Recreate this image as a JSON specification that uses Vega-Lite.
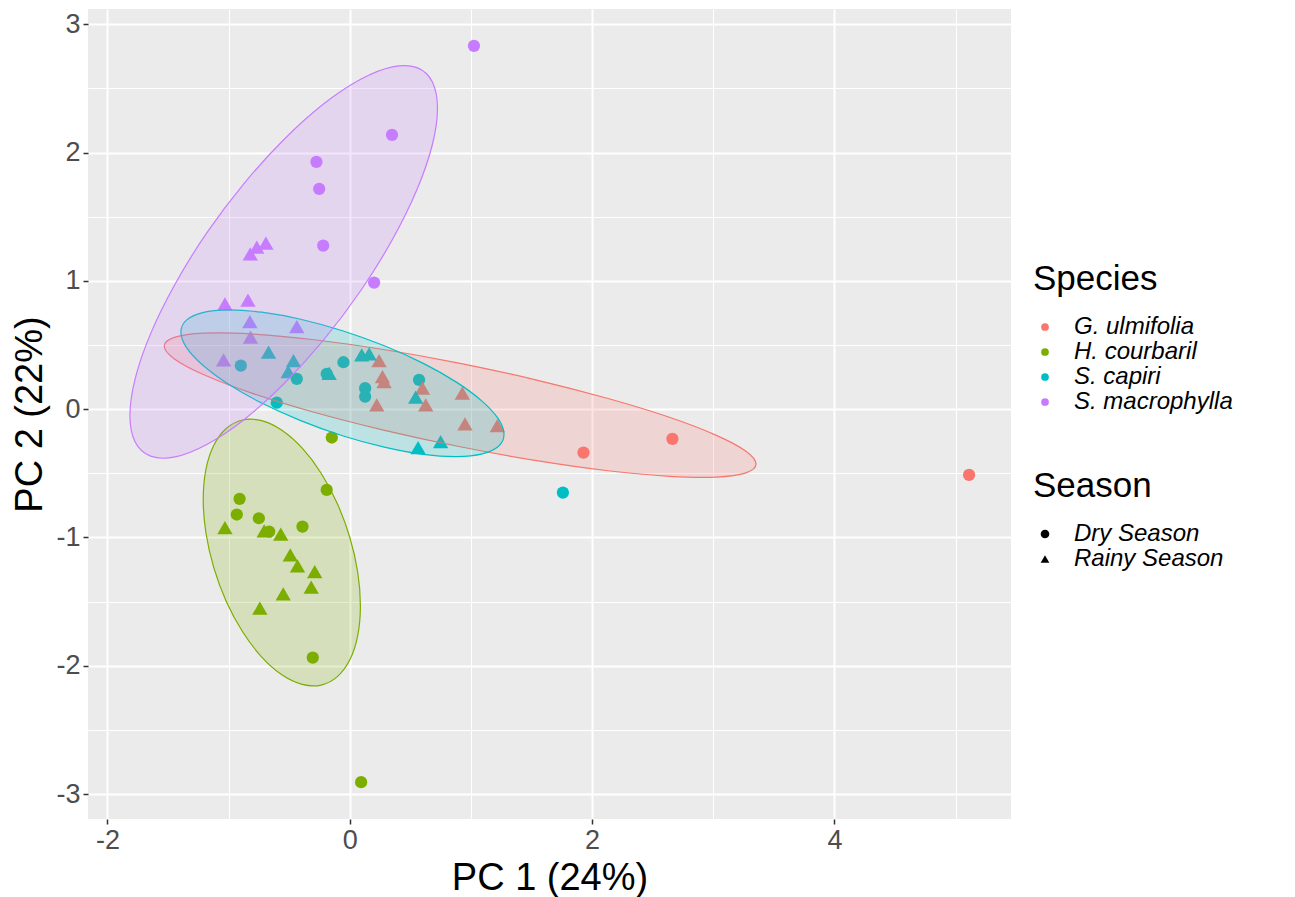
{
  "$schema": "https://vega.github.io/schema/vega-lite/v6.json",
  "autosize": {"type": "none"},
  "padding": {"left": 88, "top": 9, "right": 284, "bottom": 78},
  "width": 923,
  "height": 810,
  "background": "white",
  "config": {
    "font": "Liberation Sans",
    "view": {"fill": "#EBEBEB", "stroke": null},
    "legend": {
      "orient": "none",
      "labelFontStyle": "italic",
      "labelFontSize": 24,
      "labelColor": "black",
      "labelLimit": 400,
      "titleFontSize": 35,
      "titleFontWeight": "normal",
      "titleColor": "black",
      "titlePadding": 18,
      "rowPadding": 1,
      "symbolOffset": 0,
      "labelOffset": 17
    }
  },
  "datasets": {
    "pts": [
      {"species": "G. ulmifolia", "season": "Rainy Season", "pc1": 0.242, "pc2": 0.379},
      {"species": "G. ulmifolia", "season": "Rainy Season", "pc1": 0.270, "pc2": 0.254},
      {"species": "G. ulmifolia", "season": "Rainy Season", "pc1": 0.283, "pc2": 0.215},
      {"species": "G. ulmifolia", "season": "Rainy Season", "pc1": 0.600, "pc2": 0.164},
      {"species": "G. ulmifolia", "season": "Rainy Season", "pc1": 0.223, "pc2": 0.034},
      {"species": "G. ulmifolia", "season": "Rainy Season", "pc1": 0.627, "pc2": 0.034},
      {"species": "G. ulmifolia", "season": "Rainy Season", "pc1": 0.929, "pc2": 0.125},
      {"species": "G. ulmifolia", "season": "Rainy Season", "pc1": 0.951, "pc2": -0.115},
      {"species": "G. ulmifolia", "season": "Rainy Season", "pc1": 1.218, "pc2": -0.128},
      {"species": "G. ulmifolia", "season": "Dry Season", "pc1": 1.929, "pc2": -0.338},
      {"species": "G. ulmifolia", "season": "Dry Season", "pc1": 2.663, "pc2": -0.231},
      {"species": "G. ulmifolia", "season": "Dry Season", "pc1": 5.111, "pc2": -0.512},
      {"species": "H. courbaril", "season": "Dry Season", "pc1": -0.148, "pc2": -0.221},
      {"species": "H. courbaril", "season": "Dry Season", "pc1": -0.190, "pc2": -0.629},
      {"species": "H. courbaril", "season": "Dry Season", "pc1": -0.909, "pc2": -0.699},
      {"species": "H. courbaril", "season": "Dry Season", "pc1": -0.932, "pc2": -0.821},
      {"species": "H. courbaril", "season": "Dry Season", "pc1": -0.750, "pc2": -0.850},
      {"species": "H. courbaril", "season": "Dry Season", "pc1": -0.390, "pc2": -0.915},
      {"species": "H. courbaril", "season": "Dry Season", "pc1": -0.665, "pc2": -0.954},
      {"species": "H. courbaril", "season": "Dry Season", "pc1": -0.305, "pc2": -1.936},
      {"species": "H. courbaril", "season": "Dry Season", "pc1": 0.094, "pc2": -2.907},
      {"species": "H. courbaril", "season": "Rainy Season", "pc1": -1.030, "pc2": -0.923},
      {"species": "H. courbaril", "season": "Rainy Season", "pc1": -0.706, "pc2": -0.948},
      {"species": "H. courbaril", "season": "Rainy Season", "pc1": -0.569, "pc2": -0.974},
      {"species": "H. courbaril", "season": "Rainy Season", "pc1": -0.491, "pc2": -1.136},
      {"species": "H. courbaril", "season": "Rainy Season", "pc1": -0.431, "pc2": -1.221},
      {"species": "H. courbaril", "season": "Rainy Season", "pc1": -0.289, "pc2": -1.266},
      {"species": "H. courbaril", "season": "Rainy Season", "pc1": -0.318, "pc2": -1.387},
      {"species": "H. courbaril", "season": "Rainy Season", "pc1": -0.549, "pc2": -1.440},
      {"species": "H. courbaril", "season": "Rainy Season", "pc1": -0.742, "pc2": -1.551},
      {"species": "S. capiri", "season": "Dry Season", "pc1": -0.899, "pc2": 0.340},
      {"species": "S. capiri", "season": "Dry Season", "pc1": -0.437, "pc2": 0.236},
      {"species": "S. capiri", "season": "Dry Season", "pc1": -0.602, "pc2": 0.051},
      {"species": "S. capiri", "season": "Dry Season", "pc1": -0.052, "pc2": 0.366},
      {"species": "S. capiri", "season": "Dry Season", "pc1": -0.190, "pc2": 0.275},
      {"species": "S. capiri", "season": "Dry Season", "pc1": 0.572, "pc2": 0.228},
      {"species": "S. capiri", "season": "Dry Season", "pc1": 0.127, "pc2": 0.164},
      {"species": "S. capiri", "season": "Dry Season", "pc1": 0.127, "pc2": 0.098},
      {"species": "S. capiri", "season": "Dry Season", "pc1": 1.759, "pc2": -0.650},
      {"species": "S. capiri", "season": "Rainy Season", "pc1": -0.670, "pc2": 0.444},
      {"species": "S. capiri", "season": "Rainy Season", "pc1": -0.464, "pc2": 0.379},
      {"species": "S. capiri", "season": "Rainy Season", "pc1": -0.508, "pc2": 0.293},
      {"species": "S. capiri", "season": "Rainy Season", "pc1": -0.170, "pc2": 0.280},
      {"species": "S. capiri", "season": "Rainy Season", "pc1": 0.099, "pc2": 0.423},
      {"species": "S. capiri", "season": "Rainy Season", "pc1": 0.160, "pc2": 0.431},
      {"species": "S. capiri", "season": "Rainy Season", "pc1": 0.544, "pc2": 0.094},
      {"species": "S. capiri", "season": "Rainy Season", "pc1": 0.564, "pc2": -0.299},
      {"species": "S. capiri", "season": "Rainy Season", "pc1": 0.750, "pc2": -0.252},
      {"species": "S. macrophylla", "season": "Dry Season", "pc1": 1.025, "pc2": 2.832},
      {"species": "S. macrophylla", "season": "Dry Season", "pc1": 0.349, "pc2": 2.138},
      {"species": "S. macrophylla", "season": "Dry Season", "pc1": -0.275, "pc2": 1.927},
      {"species": "S. macrophylla", "season": "Dry Season", "pc1": -0.252, "pc2": 1.717},
      {"species": "S. macrophylla", "season": "Dry Season", "pc1": -0.219, "pc2": 1.275},
      {"species": "S. macrophylla", "season": "Dry Season", "pc1": 0.201, "pc2": 0.987},
      {"species": "S. macrophylla", "season": "Rainy Season", "pc1": -0.692, "pc2": 1.294},
      {"species": "S. macrophylla", "season": "Rainy Season", "pc1": -0.767, "pc2": 1.263},
      {"species": "S. macrophylla", "season": "Rainy Season", "pc1": -0.821, "pc2": 1.210},
      {"species": "S. macrophylla", "season": "Rainy Season", "pc1": -1.030, "pc2": 0.820},
      {"species": "S. macrophylla", "season": "Rainy Season", "pc1": -0.840, "pc2": 0.850},
      {"species": "S. macrophylla", "season": "Rainy Season", "pc1": -0.824, "pc2": 0.683},
      {"species": "S. macrophylla", "season": "Rainy Season", "pc1": -0.437, "pc2": 0.644},
      {"species": "S. macrophylla", "season": "Rainy Season", "pc1": -0.819, "pc2": 0.561},
      {"species": "S. macrophylla", "season": "Rainy Season", "pc1": -1.041, "pc2": 0.384}
    ],
    "ell": [
      {"species": "G. ulmifolia", "i": 0, "pc1": 3.353, "pc2": -0.428},
      {"species": "G. ulmifolia", "i": 1, "pc1": 3.270, "pc2": -0.328},
      {"species": "G. ulmifolia", "i": 2, "pc1": 3.026, "pc2": -0.204},
      {"species": "G. ulmifolia", "i": 3, "pc1": 2.638, "pc2": -0.063},
      {"species": "G. ulmifolia", "i": 4, "pc1": 2.132, "pc2": 0.083},
      {"species": "G. ulmifolia", "i": 5, "pc1": 1.543, "pc2": 0.227},
      {"species": "G. ulmifolia", "i": 6, "pc1": 0.911, "pc2": 0.357},
      {"species": "G. ulmifolia", "i": 7, "pc1": 0.279, "pc2": 0.465},
      {"species": "G. ulmifolia", "i": 8, "pc1": -0.310, "pc2": 0.543},
      {"species": "G. ulmifolia", "i": 9, "pc1": -0.815, "pc2": 0.587},
      {"species": "G. ulmifolia", "i": 10, "pc1": -1.203, "pc2": 0.593},
      {"species": "G. ulmifolia", "i": 11, "pc1": -1.447, "pc2": 0.560},
      {"species": "G. ulmifolia", "i": 12, "pc1": -1.531, "pc2": 0.492},
      {"species": "G. ulmifolia", "i": 13, "pc1": -1.447, "pc2": 0.392},
      {"species": "G. ulmifolia", "i": 14, "pc1": -1.203, "pc2": 0.268},
      {"species": "G. ulmifolia", "i": 15, "pc1": -0.815, "pc2": 0.127},
      {"species": "G. ulmifolia", "i": 16, "pc1": -0.310, "pc2": -0.020},
      {"species": "G. ulmifolia", "i": 17, "pc1": 0.279, "pc2": -0.163},
      {"species": "G. ulmifolia", "i": 18, "pc1": 0.911, "pc2": -0.293},
      {"species": "G. ulmifolia", "i": 19, "pc1": 1.543, "pc2": -0.401},
      {"species": "G. ulmifolia", "i": 20, "pc1": 2.132, "pc2": -0.480},
      {"species": "G. ulmifolia", "i": 21, "pc1": 2.638, "pc2": -0.523},
      {"species": "G. ulmifolia", "i": 22, "pc1": 3.026, "pc2": -0.529},
      {"species": "G. ulmifolia", "i": 23, "pc1": 3.270, "pc2": -0.496},
      {"species": "H. courbaril", "i": 0, "pc1": 0.088, "pc2": -1.532},
      {"species": "H. courbaril", "i": 1, "pc1": 0.066, "pc2": -1.271},
      {"species": "H. courbaril", "i": 2, "pc1": 0.001, "pc2": -1.000},
      {"species": "H. courbaril", "i": 3, "pc1": -0.102, "pc2": -0.737},
      {"species": "H. courbaril", "i": 4, "pc1": -0.236, "pc2": -0.499},
      {"species": "H. courbaril", "i": 5, "pc1": -0.392, "pc2": -0.304},
      {"species": "H. courbaril", "i": 6, "pc1": -0.560, "pc2": -0.164},
      {"species": "H. courbaril", "i": 7, "pc1": -0.728, "pc2": -0.089},
      {"species": "H. courbaril", "i": 8, "pc1": -0.884, "pc2": -0.084},
      {"species": "H. courbaril", "i": 9, "pc1": -1.019, "pc2": -0.150},
      {"species": "H. courbaril", "i": 10, "pc1": -1.122, "pc2": -0.281},
      {"species": "H. courbaril", "i": 11, "pc1": -1.187, "pc2": -0.470},
      {"species": "H. courbaril", "i": 12, "pc1": -1.209, "pc2": -0.703},
      {"species": "H. courbaril", "i": 13, "pc1": -1.187, "pc2": -0.963},
      {"species": "H. courbaril", "i": 14, "pc1": -1.122, "pc2": -1.235},
      {"species": "H. courbaril", "i": 15, "pc1": -1.019, "pc2": -1.498},
      {"species": "H. courbaril", "i": 16, "pc1": -0.884, "pc2": -1.735},
      {"species": "H. courbaril", "i": 17, "pc1": -0.728, "pc2": -1.930},
      {"species": "H. courbaril", "i": 18, "pc1": -0.560, "pc2": -2.070},
      {"species": "H. courbaril", "i": 19, "pc1": -0.392, "pc2": -2.145},
      {"species": "H. courbaril", "i": 20, "pc1": -0.236, "pc2": -2.150},
      {"species": "H. courbaril", "i": 21, "pc1": -0.102, "pc2": -2.084},
      {"species": "H. courbaril", "i": 22, "pc1": 0.001, "pc2": -1.953},
      {"species": "H. courbaril", "i": 23, "pc1": 0.066, "pc2": -1.764},
      {"species": "S. capiri", "i": 0, "pc1": 1.273, "pc2": -0.198},
      {"species": "S. capiri", "i": 1, "pc1": 1.228, "pc2": -0.078},
      {"species": "S. capiri", "i": 2, "pc1": 1.094, "pc2": 0.061},
      {"species": "S. capiri", "i": 3, "pc1": 0.883, "pc2": 0.209},
      {"species": "S. capiri", "i": 4, "pc1": 0.607, "pc2": 0.357},
      {"species": "S. capiri", "i": 5, "pc1": 0.285, "pc2": 0.494},
      {"species": "S. capiri", "i": 6, "pc1": -0.060, "pc2": 0.611},
      {"species": "S. capiri", "i": 7, "pc1": -0.405, "pc2": 0.701},
      {"species": "S. capiri", "i": 8, "pc1": -0.727, "pc2": 0.756},
      {"species": "S. capiri", "i": 9, "pc1": -1.003, "pc2": 0.774},
      {"species": "S. capiri", "i": 10, "pc1": -1.214, "pc2": 0.753},
      {"species": "S. capiri", "i": 11, "pc1": -1.348, "pc2": 0.694},
      {"species": "S. capiri", "i": 12, "pc1": -1.393, "pc2": 0.602},
      {"species": "S. capiri", "i": 13, "pc1": -1.348, "pc2": 0.482},
      {"species": "S. capiri", "i": 14, "pc1": -1.214, "pc2": 0.344},
      {"species": "S. capiri", "i": 15, "pc1": -1.003, "pc2": 0.196},
      {"species": "S. capiri", "i": 16, "pc1": -0.727, "pc2": 0.048},
      {"species": "S. capiri", "i": 17, "pc1": -0.405, "pc2": -0.089},
      {"species": "S. capiri", "i": 18, "pc1": -0.060, "pc2": -0.207},
      {"species": "S. capiri", "i": 19, "pc1": 0.285, "pc2": -0.296},
      {"species": "S. capiri", "i": 20, "pc1": 0.607, "pc2": -0.352},
      {"species": "S. capiri", "i": 21, "pc1": 0.883, "pc2": -0.369},
      {"species": "S. capiri", "i": 22, "pc1": 1.094, "pc2": -0.348},
      {"species": "S. capiri", "i": 23, "pc1": 1.228, "pc2": -0.289},
      {"species": "S. macrophylla", "i": 0, "pc1": 0.724, "pc2": 2.346},
      {"species": "S. macrophylla", "i": 1, "pc1": 0.681, "pc2": 2.552},
      {"species": "S. macrophylla", "i": 2, "pc1": 0.554, "pc2": 2.662},
      {"species": "S. macrophylla", "i": 3, "pc1": 0.352, "pc2": 2.668},
      {"species": "S. macrophylla", "i": 4, "pc1": 0.090, "pc2": 2.571},
      {"species": "S. macrophylla", "i": 5, "pc1": -0.217, "pc2": 2.378},
      {"species": "S. macrophylla", "i": 6, "pc1": -0.545, "pc2": 2.100},
      {"species": "S. macrophylla", "i": 7, "pc1": -0.873, "pc2": 1.758},
      {"species": "S. macrophylla", "i": 8, "pc1": -1.180, "pc2": 1.374},
      {"species": "S. macrophylla", "i": 9, "pc1": -1.442, "pc2": 0.974},
      {"species": "S. macrophylla", "i": 10, "pc1": -1.644, "pc2": 0.587},
      {"species": "S. macrophylla", "i": 11, "pc1": -1.771, "pc2": 0.237},
      {"species": "S. macrophylla", "i": 12, "pc1": -1.814, "pc2": -0.050},
      {"species": "S. macrophylla", "i": 13, "pc1": -1.771, "pc2": -0.256},
      {"species": "S. macrophylla", "i": 14, "pc1": -1.644, "pc2": -0.366},
      {"species": "S. macrophylla", "i": 15, "pc1": -1.442, "pc2": -0.372},
      {"species": "S. macrophylla", "i": 16, "pc1": -1.180, "pc2": -0.275},
      {"species": "S. macrophylla", "i": 17, "pc1": -0.873, "pc2": -0.082},
      {"species": "S. macrophylla", "i": 18, "pc1": -0.545, "pc2": 0.196},
      {"species": "S. macrophylla", "i": 19, "pc1": -0.217, "pc2": 0.538},
      {"species": "S. macrophylla", "i": 20, "pc1": 0.090, "pc2": 0.923},
      {"species": "S. macrophylla", "i": 21, "pc1": 0.352, "pc2": 1.322},
      {"species": "S. macrophylla", "i": 22, "pc1": 0.554, "pc2": 1.710},
      {"species": "S. macrophylla", "i": 23, "pc1": 0.681, "pc2": 2.059}
    ]
  },
  "encoding": {
    "x": {
      "field": "pc1",
      "type": "quantitative",
      "title": "PC 1 (24%)",
      "scale": {"domain": [-2.16, 5.457], "nice": false, "zero": false},
      "axis": {
        "values": [-2, -1, 0, 1, 2, 3, 4, 5],
        "labelExpr": "datum.value % 2 === 0 ? '' + datum.value : ''",
        "labelOverlap": false,
        "labelFlush": false,
        "domain": false,
        "grid": true,
        "gridColor": "white",
        "gridOpacity": 1,
        "gridWidth": {"condition": {"test": "datum.value % 2 === 0", "value": 2}, "value": 1},
        "tickColor": {"condition": {"test": "datum.value % 2 !== 0", "value": "transparent"}, "value": "#333333"},
        "tickSize": 5,
        "tickWidth": 1.5,
        "labelFontSize": 27,
        "labelColor": "#4D4D4D",
        "labelPadding": 3,
        "titleFontSize": 38,
        "titleFontWeight": "normal",
        "titleColor": "black",
        "titlePadding": 6
      }
    },
    "y": {
      "field": "pc2",
      "type": "quantitative",
      "title": "PC 2 (22%)",
      "scale": {"domain": [-3.194, 3.119], "nice": false, "zero": false},
      "axis": {
        "values": [-3, -2.5, -2, -1.5, -1, -0.5, 0, 0.5, 1, 1.5, 2, 2.5, 3],
        "labelExpr": "datum.value % 1 === 0 ? '' + datum.value : ''",
        "labelOverlap": false,
        "labelFlush": false,
        "domain": false,
        "grid": true,
        "gridColor": "white",
        "gridOpacity": 1,
        "gridWidth": {"condition": {"test": "datum.value % 1 === 0", "value": 2}, "value": 1},
        "tickColor": {"condition": {"test": "datum.value % 1 !== 0", "value": "transparent"}, "value": "#333333"},
        "tickSize": 5,
        "tickWidth": 1.5,
        "labelFontSize": 27,
        "labelColor": "#4D4D4D",
        "labelPadding": 3,
        "titleFontSize": 38,
        "titleFontWeight": "normal",
        "titleColor": "black",
        "titlePadding": 6
      }
    }
  },
  "layer": [
    {
      "data": {"name": "pts"},
      "transform": [{"filter": "datum.season === 'Dry Season'"}],
      "mark": {"type": "point", "filled": true, "opacity": 1, "strokeWidth": 0, "size": 150},
      "encoding": {
        "color": {
          "field": "species",
          "type": "nominal",
          "scale": {
            "domain": ["G. ulmifolia", "H. courbaril", "S. capiri", "S. macrophylla"],
            "range": ["#F8766D", "#7CAE00", "#00BFC4", "#C77CFF"]
          },
          "legend": {"title": "Species", "legendX": 945, "legendY": 253, "symbolType": "circle", "symbolSize": 60, "symbolStrokeWidth": 0}
        },
        "shape": {
          "field": "season",
          "type": "nominal",
          "scale": {"domain": ["Dry Season", "Rainy Season"], "range": ["circle", "triangle-up"]},
          "legend": {"title": "Season", "legendX": 945, "legendY": 460, "symbolSize": 75, "symbolFillColor": "black", "symbolStrokeColor": "black", "symbolStrokeWidth": 0}
        }
      }
    },
    {
      "data": {"name": "pts"},
      "transform": [{"filter": "datum.season === 'Rainy Season'"}],
      "mark": {"type": "point", "filled": true, "opacity": 1, "strokeWidth": 0, "size": 235},
      "encoding": {
        "color": {"field": "species", "type": "nominal"},
        "shape": {"field": "season", "type": "nominal"}
      }
    },
    {
      "data": {"name": "ell"},
      "mark": {"type": "line", "interpolate": "cardinal-closed", "strokeWidth": 1.2, "fillOpacity": 0.2},
      "encoding": {
        "stroke": {
          "field": "species",
          "type": "nominal",
          "scale": {
            "domain": ["G. ulmifolia", "H. courbaril", "S. capiri", "S. macrophylla"],
            "range": ["#F8766D", "#7CAE00", "#00BFC4", "#C77CFF"]
          },
          "legend": null
        },
        "fill": {
          "field": "species",
          "type": "nominal",
          "scale": {
            "domain": ["G. ulmifolia", "H. courbaril", "S. capiri", "S. macrophylla"],
            "range": ["#F8766D", "#7CAE00", "#00BFC4", "#C77CFF"]
          },
          "legend": null
        },
        "detail": {"field": "species"},
        "order": {"field": "i", "type": "quantitative"}
      }
    }
  ]
}
